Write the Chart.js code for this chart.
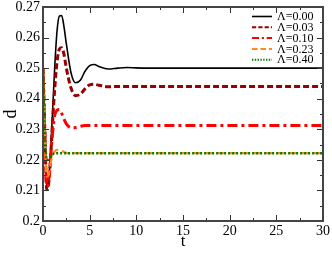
<!DOCTYPE html>
<html>
<head>
<meta charset="utf-8">
<script src="https://cdn.jsdelivr.net/npm/chart.js@4"></script>
<style>
  html, body { margin: 0; padding: 0; background: #fff; }
  #wrap { width: 332px; height: 253px; }
</style>
</head>
<body>
<div id="wrap"><canvas id="grafico"></canvas></div>
<script>
// time samples (shared by all curves)
const tempos = [0, 0.2, 0.4, 0.6, 0.8, 1.0, 1.25, 1.5, 1.75, 2.0, 2.25, 2.5, 3.0, 3.5, 4.0, 4.5, 5.0, 5.5, 6.0, 7.0, 8.0, 9.0, 10, 12, 15, 20, 25, 30];

const d000 = [0.250, 0.228, 0.2105, 0.2130, 0.2220, 0.2340, 0.2500, 0.2620, 0.2670, 0.2672, 0.2635, 0.2580, 0.2485, 0.2452, 0.2460, 0.2490, 0.2508, 0.2512, 0.2505, 0.2497, 0.2500, 0.2502, 0.2501, 0.2500, 0.2500, 0.2500, 0.2500, 0.2500];
const d003 = [0.250, 0.228, 0.2102, 0.2120, 0.2200, 0.2310, 0.2430, 0.2520, 0.2562, 0.2567, 0.2545, 0.2500, 0.2435, 0.2410, 0.2415, 0.2432, 0.2445, 0.2447, 0.2444, 0.2439, 0.2440, 0.2440, 0.2440, 0.2440, 0.2440, 0.2440, 0.2440, 0.2440];
const d010 = [0.250, 0.229, 0.2112, 0.2130, 0.2200, 0.2280, 0.2345, 0.2362, 0.2365, 0.2352, 0.2333, 0.2318, 0.2305, 0.2306, 0.2310, 0.2312, 0.2312, 0.2312, 0.2312, 0.2312, 0.2312, 0.2312, 0.2312, 0.2312, 0.2312, 0.2312, 0.2312, 0.2312];
const d023 = [0.250, 0.227, 0.2145, 0.2150, 0.2185, 0.2213, 0.2227, 0.2233, 0.2233, 0.2230, 0.2226, 0.2223, 0.2221, 0.2222, 0.2222, 0.2222, 0.2222, 0.2222, 0.2222, 0.2222, 0.2222, 0.2222, 0.2222, 0.2222, 0.2222, 0.2222, 0.2222, 0.2222];
const d040 = [0.250, 0.229, 0.2200, 0.2202, 0.2212, 0.2218, 0.2221, 0.2222, 0.2222, 0.2222, 0.2222, 0.2222, 0.2222, 0.2222, 0.2222, 0.2222, 0.2222, 0.2222, 0.2222, 0.2222, 0.2222, 0.2222, 0.2222, 0.2222, 0.2222, 0.2222, 0.2222, 0.2222];

const rotulos = ["\u039B=0.00", "\u039B=0.03", "\u039B=0.10", "\u039B=0.23", "\u039B=0.40"];

const xTicks = [0, 5, 10, 15, 20, 25, 30];
const yTicks = [0.2, 0.21, 0.22, 0.23, 0.24, 0.25, 0.26, 0.27];
const yTickLabels = ["0.2", "0.21", "0.22", "0.23", "0.24", "0.25", "0.26", "0.27"];

const serif = "'Liberation Serif', 'DejaVu Serif', serif";

function pontos(ys) {
  return tempos.map((t, i) => ({ x: t, y: ys[i] }));
}

const estilos = [
  { cor: "#000000", largura: 1.6, dash: [] },
  { cor: "#990000", largura: 3, dash: [6, 3] },
  { cor: "#ff0000", largura: 3, dash: [10, 4, 3, 4] },
  { cor: "#ff8c1a", largura: 2.2, dash: [8, 4] },
  { cor: "#008000", largura: 2.5, dash: [2, 2] }
];
const series = [d000, d003, d010, d023, d040];

const datasets = series.map((s, i) => ({
  label: rotulos[i],
  data: pontos(s),
  borderColor: estilos[i].cor,
  borderWidth: estilos[i].largura,
  borderDash: estilos[i].dash,
  pointRadius: 0,
  fill: false,
  cubicInterpolationMode: "monotone"
}));
// black on top like the original
datasets.reverse();

/* frame + inward ticks on four sides, legend */
const moldura = {
  id: "moldura",
  afterDraw(chart) {
    const ctx = chart.ctx;
    const a = chart.chartArea;
    const sx = chart.scales.x, sy = chart.scales.y;
    ctx.save();
    ctx.strokeStyle = "#333";
    ctx.lineWidth = 1;
    ctx.setLineDash([]);
    ctx.beginPath();
    for (let t = 0; t <= 30.001; t += 2.5) {
      const px = Math.round(sx.getPixelForValue(t)) + 0.5;
      const len = (Math.abs(t % 5) < 0.01) ? 6 : 3;
      ctx.moveTo(px, a.bottom); ctx.lineTo(px, a.bottom - len);
      ctx.moveTo(px, a.top); ctx.lineTo(px, a.top + len);
    }
    for (let k = 0; k <= 14; k++) {
      const v = 0.2 + k * 0.005;
      const py = Math.round(sy.getPixelForValue(v)) + 0.5;
      const len = (k % 2 === 0) ? 6 : 3;
      ctx.moveTo(a.left, py); ctx.lineTo(a.left + len, py);
      ctx.moveTo(a.right, py); ctx.lineTo(a.right - len, py);
    }
    ctx.stroke();
    ctx.lineWidth = 2;
    ctx.strokeStyle = "#444";
    ctx.strokeRect(a.left, a.top, a.right - a.left, a.bottom - a.top);

    // legend
    ctx.font = "12px " + serif;
    ctx.textBaseline = "middle";
    ctx.textAlign = "left";
    const x0 = 252, x1 = 272, xt = 277;
    rotulos.forEach((r, i) => {
      const y = 16.5 + i * 10.8;
      const e = estilos[i];
      ctx.strokeStyle = e.cor;
      ctx.lineWidth = Math.min(e.largura, 2);
      ctx.setLineDash(e.dash.map(v => v * 0.7));
      ctx.beginPath();
      ctx.moveTo(x0, y); ctx.lineTo(x1, y);
      ctx.stroke();
      ctx.setLineDash([]);
      ctx.fillStyle = "#000";
      ctx.fillText(r, xt, y + 0.5);
    });
    ctx.restore();
  }
};

new Chart(document.getElementById("grafico"), {
  type: "line",
  data: { datasets },
  options: {
    responsive: true,
    maintainAspectRatio: false,
    animation: false,
    layout: { padding: { top: 7, right: 9, left: 0, bottom: 0 } },
    plugins: { legend: { display: false }, tooltip: { enabled: false } },
    scales: {
      x: {
        type: "linear",
        min: 0, max: 30,
        afterBuildTicks: s => { s.ticks = xTicks.map(v => ({ value: v })); },
        afterFit: s => { s.height = 32; s.paddingLeft = 0; s.paddingRight = 0; },
        grid: { display: false, drawTicks: false, tickLength: 0 },
        border: { display: false },
        ticks: { color: "#000", font: { family: serif, size: 14 }, padding: 2, maxRotation: 0 },
        title: { display: true, text: "t", color: "#000", font: { family: serif, size: 17 }, padding: { top: 0, bottom: 1 } }
      },
      y: {
        type: "linear",
        min: 0.2, max: 0.27,
        afterBuildTicks: s => { s.ticks = yTicks.map(v => ({ value: v })); },
        afterFit: s => { s.width = 43; s.paddingTop = 0; s.paddingBottom = 0; },
        grid: { display: false, drawTicks: false, tickLength: 0 },
        border: { display: false },
        ticks: {
          color: "#000", font: { family: serif, size: 14 }, padding: 3,
          callback: (v, i) => yTickLabels[i]
        },
        title: { display: true, text: "d", color: "#000", font: { family: serif, size: 18 }, padding: { top: 0, bottom: 0 } }
      }
    }
  },
  plugins: [moldura]
});
</script>
</body>
</html>
